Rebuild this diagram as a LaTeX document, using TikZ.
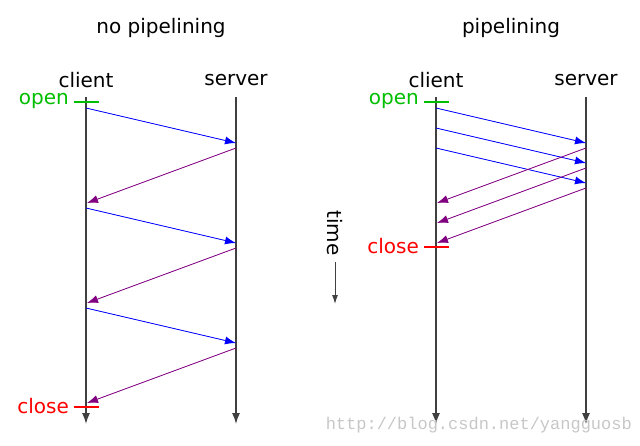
\documentclass[tikz,border=0pt]{standalone}
\usepackage{xcolor}
\usepackage{fontspec}
\setmainfont{DejaVu Sans}
\newfontfamily\wmfont{Liberation Mono}
\usepackage{tikz}
\usetikzlibrary{arrows.meta}

\definecolor{msgpurple}{RGB}{128,0,128}
\definecolor{opengreen}{RGB}{0,190,0}

\begin{document}
\begin{tikzpicture}[
    x=1pt, y=-1pt,
    heading/.style={
        font=\fontsize{20}{22}\selectfont,
        inner sep=0pt
    },
    lifeline/.style={
        -{Latex[length=11pt,width=8pt]},
        draw=black!75,
        line width=1.3pt
    },
    request/.style={
        -{Latex[length=11pt,width=8pt]},
        draw=blue,
        fill=blue,
        line width=0.8pt
    },
    reply/.style={
        -{Latex[length=11pt,width=8pt]},
        draw=msgpurple,
        fill=msgpurple,
        line width=0.8pt
    },
    tickline/.style={
        line width=1.3pt
    },
    tag/.style={
        font=\fontsize{20}{22}\selectfont,
        inner sep=0pt,
        anchor=east
    }
]
\useasboundingbox (0,0) rectangle (640,445);

% Titles
\node[heading] (titleA) at (161,28) {no pipelining};
\node[heading] (titleB) at (511,28) {pipelining};

% Left: no pipelining
\node[heading] (clientA) at (86,80) {client};
\node[heading] (serverA) at (236,80) {server};
\coordinate (ca0) at (86,97);
\coordinate (ca1) at (86,424);
\coordinate (sa0) at (236,97);
\coordinate (sa1) at (236,424);
\draw[lifeline] (ca0) -- (ca1);
\draw[lifeline] (sa0) -- (sa1);

\coordinate (ra1) at (86,108);
\coordinate (ra2) at (236,143);
\coordinate (ra3) at (236,148);
\coordinate (ra4) at (87,203);
\coordinate (ra5) at (86,208);
\coordinate (ra6) at (236,243);
\coordinate (ra7) at (236,248);
\coordinate (ra8) at (87,303);
\coordinate (ra9) at (86,308);
\coordinate (ra10) at (236,343);
\coordinate (ra11) at (236,348);
\coordinate (ra12) at (87,403);
\draw[request] (ra1) -- (ra2);
\draw[reply] (ra3) -- (ra4);
\draw[request] (ra5) -- (ra6);
\draw[reply] (ra7) -- (ra8);
\draw[request] (ra9) -- (ra10);
\draw[reply] (ra11) -- (ra12);

\coordinate (oa0) at (74,102);
\coordinate (oa1) at (99,102);
\draw[tickline, opengreen] (oa0) -- (oa1);
\node[tag, text=opengreen] (openA) at (69,101) {open};
\coordinate (xa0) at (74,407);
\coordinate (xa1) at (99,407);
\draw[tickline, red] (xa0) -- (xa1);
\node[tag, text=red] (closeA) at (69,406) {close};

% Time axis
\node[heading, rotate=-90] (time) at (335,233) {time};
\coordinate (t0) at (335,262);
\coordinate (t1) at (335,304);
\draw[-{Latex[length=9pt,width=6pt]}, black!75, line width=1pt] (t0) -- (t1);

% Right: pipelining
\node[heading] (clientB) at (436,80) {client};
\node[heading] (serverB) at (586,80) {server};
\coordinate (cb0) at (436,97);
\coordinate (cb1) at (436,424);
\coordinate (sb0) at (586,97);
\coordinate (sb1) at (586,424);
\draw[lifeline] (cb0) -- (cb1);
\draw[lifeline] (sb0) -- (sb1);

\coordinate (qb1) at (436,108);
\coordinate (qb2) at (586,143);
\coordinate (qb3) at (436,128);
\coordinate (qb4) at (586,163);
\coordinate (qb5) at (436,148);
\coordinate (qb6) at (586,183);
\draw[request] (qb1) -- (qb2);
\draw[request] (qb3) -- (qb4);
\draw[request] (qb5) -- (qb6);

\coordinate (pb1) at (586,148);
\coordinate (pb2) at (437,203);
\coordinate (pb3) at (586,168);
\coordinate (pb4) at (437,223);
\coordinate (pb5) at (586,188);
\coordinate (pb6) at (437,243);
\draw[reply] (pb1) -- (pb2);
\draw[reply] (pb3) -- (pb4);
\draw[reply] (pb5) -- (pb6);

\coordinate (ob0) at (424,102);
\coordinate (ob1) at (449,102);
\draw[tickline, opengreen] (ob0) -- (ob1);
\node[tag, text=opengreen] (openB) at (419,101) {open};
\coordinate (xb0) at (424,247);
\coordinate (xb1) at (449,247);
\draw[tickline, red] (xb0) -- (xb1);
\node[tag, text=red] (closeB) at (419,246) {close};

% Watermark
\node[anchor=east, inner sep=0pt, text=black!22, font=\wmfont\fontsize{17}{19}\selectfont] (wm) at (632,425) {http://blog.csdn.net/yangguosb};

\end{tikzpicture}
\end{document}
